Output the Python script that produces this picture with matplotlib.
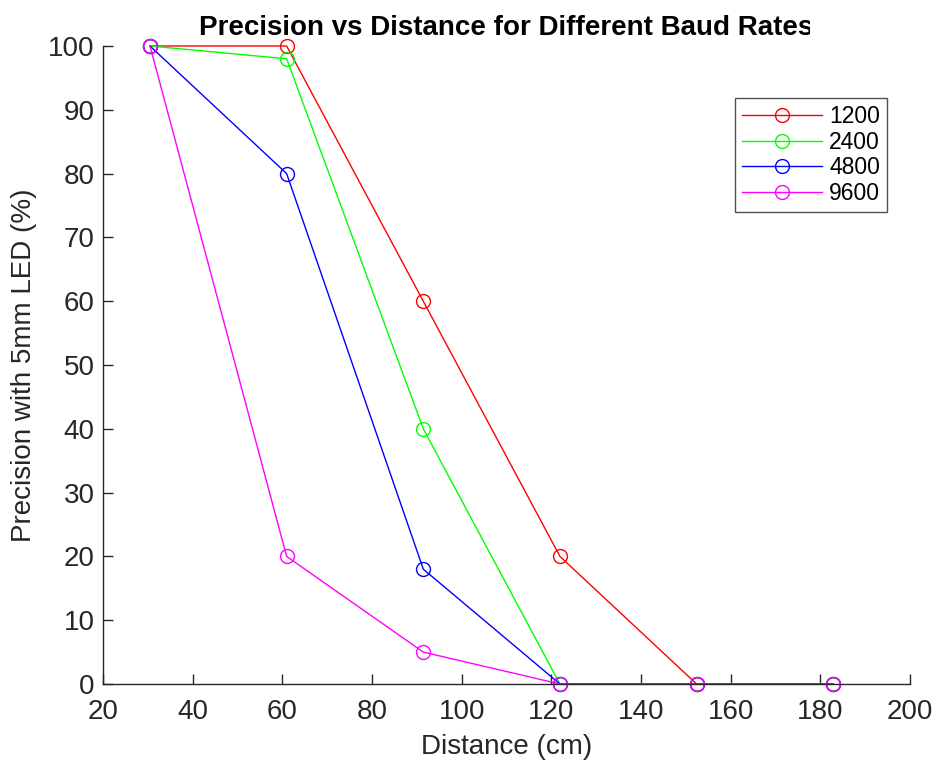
import matplotlib
matplotlib.use("Agg")
import matplotlib.pyplot as plt
from matplotlib.patches import Rectangle

plt.rcParams['font.family'] = ['Liberation Sans', 'DejaVu Sans']

distance = [30.48, 60.96, 91.44, 121.92, 152.4, 182.88]
series_names = ['1200', '2400', '4800', '9600']
prec_1200 = [100, 100, 60, 20, 0, 0]
prec_2400 = [100, 98, 40, 0, 0, 0]
prec_4800 = [100, 80, 18, 0, 0, 0]
prec_9600 = [100, 20, 5, 0, 0, 0]
colors = ['#ff0000', '#00ff00', '#0000ff', '#ff00ff']

fig = plt.figure(figsize=(9.36, 7.6), dpi=100)
ax = fig.add_axes([103/936, 76/760, (910-103)/936, (684-46)/760])

for vals, name, c in zip([prec_1200, prec_2400, prec_4800, prec_9600], series_names, colors):
    ax.plot(distance, vals, color=c, lw=1.0, marker='o', markersize=10,
            markerfacecolor='none', markeredgecolor=c, markeredgewidth=1.0, label=name,
            clip_on=False)

ax.set_xlim(20, 200)
ax.set_ylim(0, 100)
ax.set_xticks(range(20, 201, 20))
ax.set_yticks(range(0, 101, 10))
for s in ['top', 'right']:
    ax.spines[s].set_visible(False)
for s in ['left', 'bottom']:
    ax.spines[s].set_color('#262626')
    ax.spines[s].set_linewidth(1.0)
ax.tick_params(direction='in', length=7, width=1, colors='#262626', labelsize=20,
               labelcolor='#262626')
ax.tick_params(axis='y', pad=6)
ax.tick_params(axis='x', pad=11)
ax.set_xlabel('Distance (cm)', fontsize=20, color='#262626', labelpad=6)
ax.set_ylabel('Precision with 5mm LED (%)', fontsize=20, color='#262626', labelpad=8)
ax.set_title('Precision vs Distance for Different Baud Rates', fontsize=20,
             fontweight='bold', pad=8)

# the reference title is cut off at its right end
fig.patches.append(Rectangle((810/936, 1-44/760), 60/936, 42/760, transform=fig.transFigure,
                             facecolor='white', edgecolor='none', zorder=10))

leg = ax.legend(loc='upper right', bbox_to_anchor=(887/936, 1-98/760), bbox_transform=fig.transFigure,
                fontsize=16.5, frameon=True, fancybox=False, edgecolor='#262626', handlelength=3.5,
                borderpad=0.3, labelspacing=0.12, handletextpad=0.3, borderaxespad=0)
leg.get_frame().set_linewidth(1.0)

fig.savefig('out.png', dpi=100)
